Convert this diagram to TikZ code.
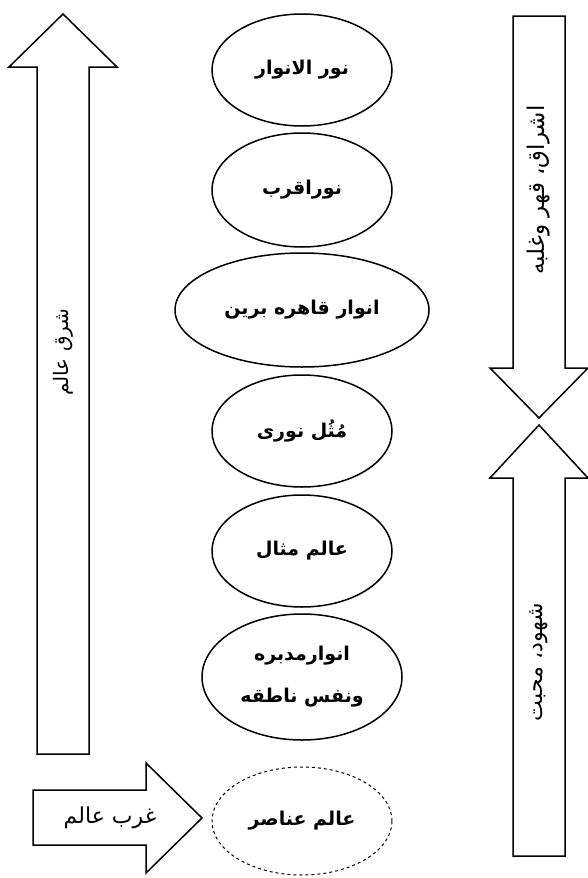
\documentclass[tikz,border=0pt]{standalone}
\usepackage{fontspec}
\usetikzlibrary{shapes.geometric}
\TeXXeTstate=1
\newfontfamily\arfont[Script=Arabic]{DejaVu Sans}
\newfontfamily\arbold[Script=Arabic]{DejaVu Sans Bold}
\tikzset{
  ell/.style={draw, ellipse, line width=1.5pt, inner sep=0pt, font=\arbold\fontsize{19}{42}\selectfont, align=center},
  blockarrow/.style={draw, line width=1.5pt, line join=miter},
  arrowtext/.style={font=\arfont\fontsize{20}{24}\selectfont, inner sep=0pt}
}
\begin{document}
\begin{tikzpicture}[x=1pt,y=-1pt]
\useasboundingbox (0,0) rectangle (587,878);
% block arrows
\draw[blockarrow] (37,754) -- (37,67) -- (9,67) -- (63,14) -- (117,67) -- (89,67) -- (89,754) -- cycle;
\draw[blockarrow] (513,16) -- (565,16) -- (565,368) -- (588,368) -- (539,418) -- (490,368) -- (513,368) -- cycle;
\draw[blockarrow] (539,425) -- (588,478) -- (565,478) -- (565,856) -- (513,856) -- (513,478) -- (490,478) -- cycle;
\draw[blockarrow] (33,790) -- (146,790) -- (146,763) -- (202,818) -- (146,873) -- (146,845) -- (33,845) -- cycle;
% arrow texts
\node[arrowtext, rotate=90] (east) at (63,352) {\beginR شرق عالم\endR};
\node[arrowtext, rotate=90, font=\arfont\fontsize{23}{27}\selectfont] (ishraq) at (539,190) {\beginR اشراق، قهر وغلبه\endR};
\node[arrowtext, rotate=90, font=\arfont\fontsize{22}{26}\selectfont] (shuhud) at (539,662) {\beginR شهود، محبت\endR};
\node[arrowtext, font=\arfont\fontsize{22}{26}\selectfont] (west) at (110,818) {\beginR غرب عالم\endR};
% ellipses
\node[ell, minimum width=180pt, minimum height=112pt] (e1) at (302,70) {\beginR نور الانوار\endR};
\node[ell, minimum width=180pt, minimum height=114pt] (e2) at (302,190) {\beginR نوراقرب\endR};
\node[ell, minimum width=254pt, minimum height=114pt] (e3) at (302,310) {\beginR انوار قاهره برین\endR};
\node[ell, minimum width=180pt, minimum height=112pt] (e4) at (302,431) {\beginR مُثُل نوری\endR};
\node[ell, minimum width=180pt, minimum height=112pt] (e5) at (302,551) {\beginR عالم مثال\endR};
\node[ell, minimum width=200pt, minimum height=126pt] (e6) at (302,677) {\beginR انوارمدبره\endR\\\beginR ونفس ناطقه\endR};
\node[ell, dashed, line width=1pt, minimum width=180pt, minimum height=108pt] (e7) at (302,821) {\beginR عالم عناصر\endR};
\end{tikzpicture}
\end{document}
